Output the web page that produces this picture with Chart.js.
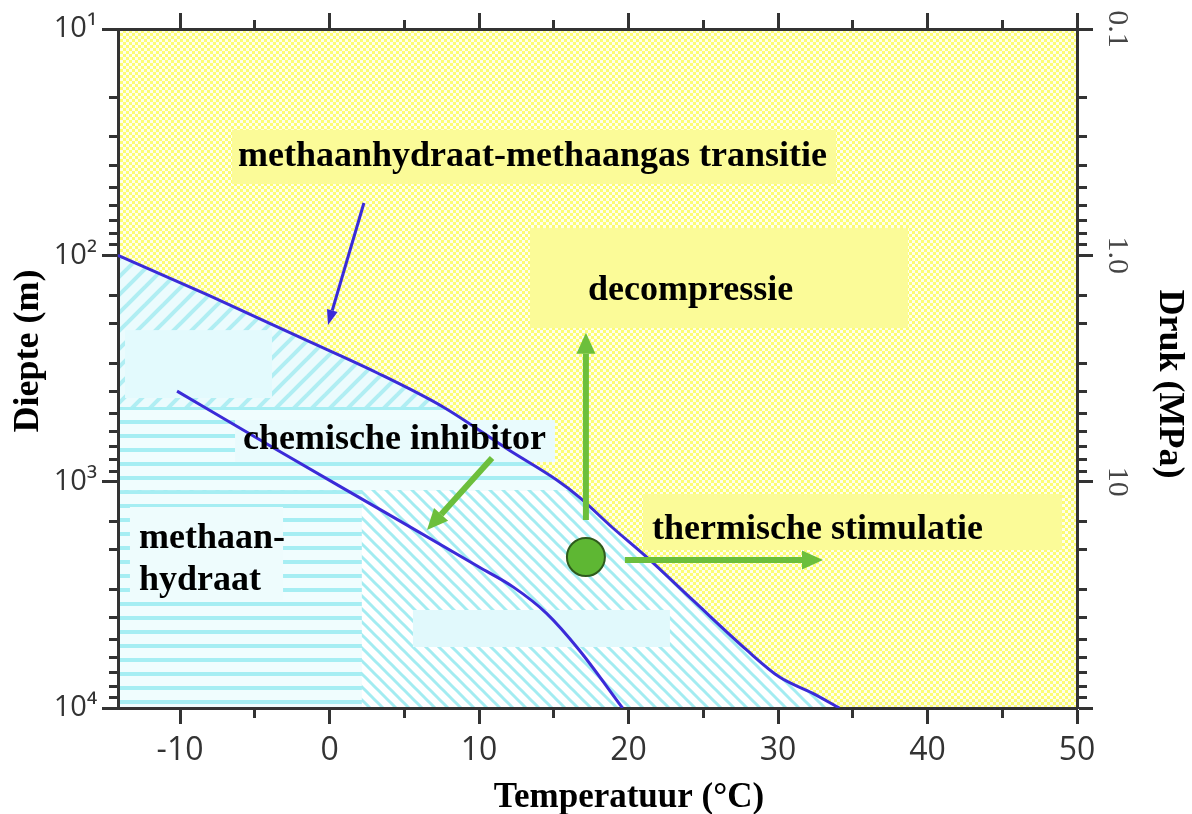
<!DOCTYPE html>
<html><head><meta charset="utf-8">
<script src="https://cdn.jsdelivr.net/npm/chart.js@4.4.1/dist/chart.umd.min.js"></script>
<style>html,body{margin:0;padding:0;background:#fff;} #wrap{width:1192px;height:814px;position:relative;}</style>
</head><body><div id="wrap"><canvas id="c"></canvas></div>
<script>
// ---- data ----
const upperT      = [-14.15, -8.0, -2.0, 3.2, 7.6, 12.0, 15.2, 16.7, 18.9, 21.2, 24.3, 27.9, 30.1, 32.3, 34.1];
const upperDepth  = [100, 151, 230, 331, 468, 725, 984, 1170, 1590, 2150, 3340, 5540, 7300, 8600, 10000];
const lowerT      = [-10.2, -3.5, 3.8, 10.0, 12.3, 14.5, 16.7, 19.6];
const lowerDepth  = [398, 725, 1377, 2383, 2924, 3811, 5546, 10000];
const stateT      = [17.15];
const stateDepth  = [2152];
const tempLabelTicks    = [-10, 0, 10, 20, 30, 40, 50];
const depthTicks        = [10, 100, 1000, 10000];
const depthTickLabels   = ['10¹', '10²', '10³', '10⁴'];
const pressureTicks     = [0.1, 1, 10];
const pressureTickLabels= ['0.1', '1.0', '10'];
const labelTexts  = ['methaanhydraat-methaangas transitie', 'decompressie', 'thermische stimulatie', 'chemische inhibitor', 'methaan-', 'hydraat'];
const axisTitles  = ['Temperatuur (°C)', 'Diepte (m)', 'Druk (MPa)'];

// ---- layout / decoration config (data coordinates: T in °C, depth in m) ----
const T_MIN = -14.15, T_MAX = 50;
const bandTop = 468, bandBottom = 1090, leftColumnT = 2.16;
const yellowBoxes = [
  {t: [-6.52, 33.88], d: [27.9, 48.4]},
  {t: [13.41, 38.69], d: [75.7, 209.5]},
  {t: [20.97, 48.99], d: [1134, 2005]}
];
const cyanBoxes = [
  {t: [-13.68, -3.85], d: [214, 427], c: '#e3fafd'},
  {t: [5.58, 22.77], d: [3690, 5377], c: '#e1f9fc'},
  {t: [-6.32, 15.08], d: [534, 819], c: '#e9fbfd'},
  {t: [-13.35, -3.11], d: [1294, 3334], c: '#eefcfd'}
];
const textAnchors = [
  {t: -6.12, d: 40.3}, {t: 17.29, d: 157.5}, {t: 21.57, d: 1792},
  {t: -5.79, d: 717}, {t: -12.75, d: 1964}, {t: -12.75, d: 3011}
];
const greenArrows = [
  {from: [17.15, 1477], to: [17.15, 220]},
  {from: [19.76, 2219], to: [33.01, 2219]},
  {from: [10.87, 786], to: [6.52, 1635]}
];
const blueArrow = {from: [2.30, 58.7], to: [-0.10, 203]};

const AX = '#333';
const TL = 16;
const isDecade = v => { const l = Math.log10(v); return Math.abs(l - Math.round(l)) < 1e-6; };
const minorOut = [8, 60];
const minorIn  = [0, 7, 9, 60];

let pats = null;
function makePats(ctx) {
  function mk(w, h, fn) { const c = document.createElement('canvas'); c.width = w; c.height = h; const g = c.getContext('2d'); fn(g, w, h); return ctx.createPattern(c, 'repeat'); }
  return {
    checker: mk(6, 6, (g) => { g.fillStyle = '#fcfc74'; g.fillRect(0,0,6,6); g.fillStyle = 'rgba(255,255,255,0.85)'; g.fillRect(0,0,3,3); g.fillRect(3,3,3,3); }),
    back: mk(13, 13, (g, s) => { g.fillStyle = '#ffffff'; g.fillRect(0,0,s,s); g.strokeStyle = '#a3ecf1'; g.lineWidth = 3; for (let k = -1; k <= 1; k++) { g.beginPath(); g.moveTo(-2, -2 + k*s); g.lineTo(s+2, s+2 + k*s); g.stroke(); } }),
    fwd: mk(18, 18, (g, s) => { g.fillStyle = '#ebfbfd'; g.fillRect(0,0,s,s); g.strokeStyle = '#b0eef3'; g.lineWidth = 4; for (let k = 0; k <= 2; k++) { g.beginPath(); g.moveTo(-2, k*s + 2); g.lineTo(s+2, k*s - s - 2); g.stroke(); } }),
    horiz: mk(4, 14, (g) => { g.fillStyle = '#f0fdfe'; g.fillRect(0,0,4,14); g.fillStyle = '#a6eef3'; g.fillRect(0,0,4,4); })
  };
}

function arrow(ctx, x0, y0, x1, y1, color, width, headLen, headW) {
  const a = Math.atan2(y1 - y0, x1 - x0);
  const bx = x1 - headLen * Math.cos(a), by = y1 - headLen * Math.sin(a);
  ctx.strokeStyle = color; ctx.lineWidth = width; ctx.lineCap = 'butt';
  ctx.beginPath(); ctx.moveTo(x0, y0); ctx.lineTo(bx, by); ctx.stroke();
  ctx.fillStyle = color; ctx.beginPath(); ctx.moveTo(x1, y1);
  ctx.lineTo(bx + headW/2 * Math.sin(a), by - headW/2 * Math.cos(a));
  ctx.lineTo(bx - headW/2 * Math.sin(a), by + headW/2 * Math.cos(a));
  ctx.closePath(); ctx.fill();
}

const regionPlugin = {
  id: 'regions',
  beforeDraw(chart) {
    const {ctx, chartArea: A, scales: {x, y}} = chart;
    if (!pats) pats = makePats(ctx);
    const px = v => x.getPixelForValue(v), py = v => y.getPixelForValue(v);
    ctx.save();
    ctx.beginPath(); ctx.rect(A.left, A.top, A.width, A.height); ctx.clip();
    ctx.fillStyle = pats.checker; ctx.fillRect(A.left, A.top, A.width, A.height);
    // hydrate-stable region below the transition curve (same path as the drawn line)
    ctx.save();
    const line = chart.getDatasetMeta(0).dataset;
    line.updateControlPoints(A, 'x');
    ctx.beginPath();
    line.path(ctx);
    const n = upperT.length;
    ctx.lineTo(px(upperT[n-1]), A.bottom + 5);
    ctx.lineTo(A.left - 5, A.bottom + 5);
    ctx.lineTo(A.left - 5, py(upperDepth[0]));
    ctx.closePath(); ctx.clip();
    ctx.fillStyle = pats.back; ctx.fillRect(A.left, A.top, A.width, A.height);
    ctx.fillStyle = pats.fwd; ctx.fillRect(A.left, A.top, A.width, py(bandTop) - A.top);
    ctx.fillStyle = pats.horiz; ctx.fillRect(A.left, py(bandTop), A.width, py(bandBottom) - py(bandTop));
    ctx.fillRect(A.left, py(bandBottom), px(leftColumnT) - A.left, A.bottom - py(bandBottom));
    ctx.restore();
    for (const b of cyanBoxes) { ctx.fillStyle = b.c; ctx.fillRect(px(b.t[0]), py(b.d[0]), px(b.t[1]) - px(b.t[0]), py(b.d[1]) - py(b.d[0])); }
    ctx.fillStyle = '#fbfb98';
    for (const b of yellowBoxes) ctx.fillRect(px(b.t[0]), py(b.d[0]), px(b.t[1]) - px(b.t[0]), py(b.d[1]) - py(b.d[0]));
    ctx.restore();
  },
  afterDatasetsDraw(chart) {
    const {ctx, scales: {x, y}} = chart;
    const px = v => x.getPixelForValue(v), py = v => y.getPixelForValue(v);
    ctx.save();
    for (const g of greenArrows) arrow(ctx, px(g.from[0]), py(g.from[1]), px(g.to[0]), py(g.to[1]), '#6cbf3c', 6, 21, 19);
    arrow(ctx, px(blueArrow.from[0]), py(blueArrow.from[1]), px(blueArrow.to[0]), py(blueArrow.to[1]), '#3b2bd8', 3, 15, 11);
    ctx.fillStyle = '#000';
    ctx.font = 'bold 36px "Liberation Serif", "Times New Roman", serif';
    ctx.textAlign = 'left'; ctx.textBaseline = 'alphabetic';
    labelTexts.forEach((s, i) => ctx.fillText(s, px(textAnchors[i].t), py(textAnchors[i].d)));
    ctx.restore();
  },
  afterDraw(chart) {
    const {ctx} = chart;
    ctx.save();
    ctx.fillStyle = '#000';
    ctx.textAlign = 'center'; ctx.textBaseline = 'alphabetic';
    ctx.font = 'bold 35px "Liberation Serif", "Times New Roman", serif';
    ctx.fillText(axisTitles[0], 629, 807);
    ctx.font = 'bold 36px "Liberation Serif", "Times New Roman", serif';
    ctx.save(); ctx.translate(38, 351); ctx.rotate(-Math.PI/2); ctx.fillText(axisTitles[1], 0, 0); ctx.restore();
    ctx.save(); ctx.translate(1160, 384); ctx.rotate(Math.PI/2); ctx.fillText(axisTitles[2], 0, 0); ctx.restore();
    ctx.restore();
  }
};

function gridOpts(minorDash, majorFn) {
  return {
    drawOnChartArea: false, drawTicks: true, tickLength: TL, tickColor: AX, tickWidth: 3,
    tickBorderDash: (c) => (c.tick && majorFn(c.tick.value)) ? [] : minorDash
  };
}
const border = {display: true, color: AX, width: 3};
const sansTick = {family: '"Open Sans", "Noto Sans", "DejaVu Sans", sans-serif'};
const curveStyle = {showLine: true, borderColor: '#3b2bd8', borderWidth: 3, pointRadius: 0, cubicInterpolationMode: 'monotone', fill: false};

new Chart(document.getElementById('c'), {
  type: 'scatter',
  data: {
    datasets: [
      {label: 'transitie', data: upperT.map((t, i) => ({x: t, y: upperDepth[i]})), ...curveStyle},
      {label: 'inhibitor', data: lowerT.map((t, i) => ({x: t, y: lowerDepth[i]})), ...curveStyle},
      {label: 'toestand', data: stateT.map((t, i) => ({x: t, y: stateDepth[i]})), showLine: false, pointRadius: 19, pointBackgroundColor: '#5eb733', pointBorderColor: '#2e5a1c', pointBorderWidth: 2}
    ]
  },
  options: {
    responsive: true, maintainAspectRatio: false, animation: false,
    layout: {padding: 0},
    plugins: {legend: {display: false}, tooltip: {enabled: false}},
    events: [],
    scales: {
      x: {type: 'linear', position: 'bottom', min: T_MIN, max: T_MAX, border,
          grid: gridOpts(minorOut, v => Math.abs(v % 10) < 1e-9),
          ticks: {stepSize: 5, includeBounds: false, autoSkip: false, maxRotation: 0, padding: 8, color: AX,
                  font: {...sansTick, size: 32},
                  callback: v => tempLabelTicks.includes(v) ? String(v) : ''},
          afterFit: s => { s.height = 106; }},
      x2: {type: 'linear', position: 'top', min: T_MIN, max: T_MAX, border,
          grid: gridOpts(minorIn, v => Math.abs(v % 10) < 1e-9),
          ticks: {stepSize: 5, includeBounds: false, autoSkip: false, maxRotation: 0, callback: () => ''},
          afterFit: s => { s.height = 29; }},
      y: {type: 'logarithmic', position: 'left', reverse: true, min: 10, max: 10000, border,
          grid: gridOpts(minorIn, isDecade),
          ticks: {autoSkip: false, padding: 5, color: AX, font: {...sansTick, size: 29},
                  callback: v => { const i = depthTicks.findIndex(d => Math.abs(d - v) < 1e-6 * d); return i >= 0 ? depthTickLabels[i] : ''; }},
          afterFit: s => { s.width = 118; }},
      y2: {type: 'logarithmic', position: 'right', reverse: true, min: 0.1, max: 100, border,
          grid: gridOpts(minorOut, isDecade),
          ticks: {autoSkip: false, padding: 5, color: '#444', minRotation: -90, maxRotation: 0, crossAlign: 'center',
                  font: {family: '"Liberation Serif", "Times New Roman", serif', size: 30},
                  callback: v => { const i = pressureTicks.findIndex(d => Math.abs(d - v) < 1e-6 * d); return i >= 0 ? pressureTickLabels[i] : ''; }},
          afterFit: s => { s.width = 115; }}
    }
  },
  plugins: [regionPlugin]
});
</script></body></html>
